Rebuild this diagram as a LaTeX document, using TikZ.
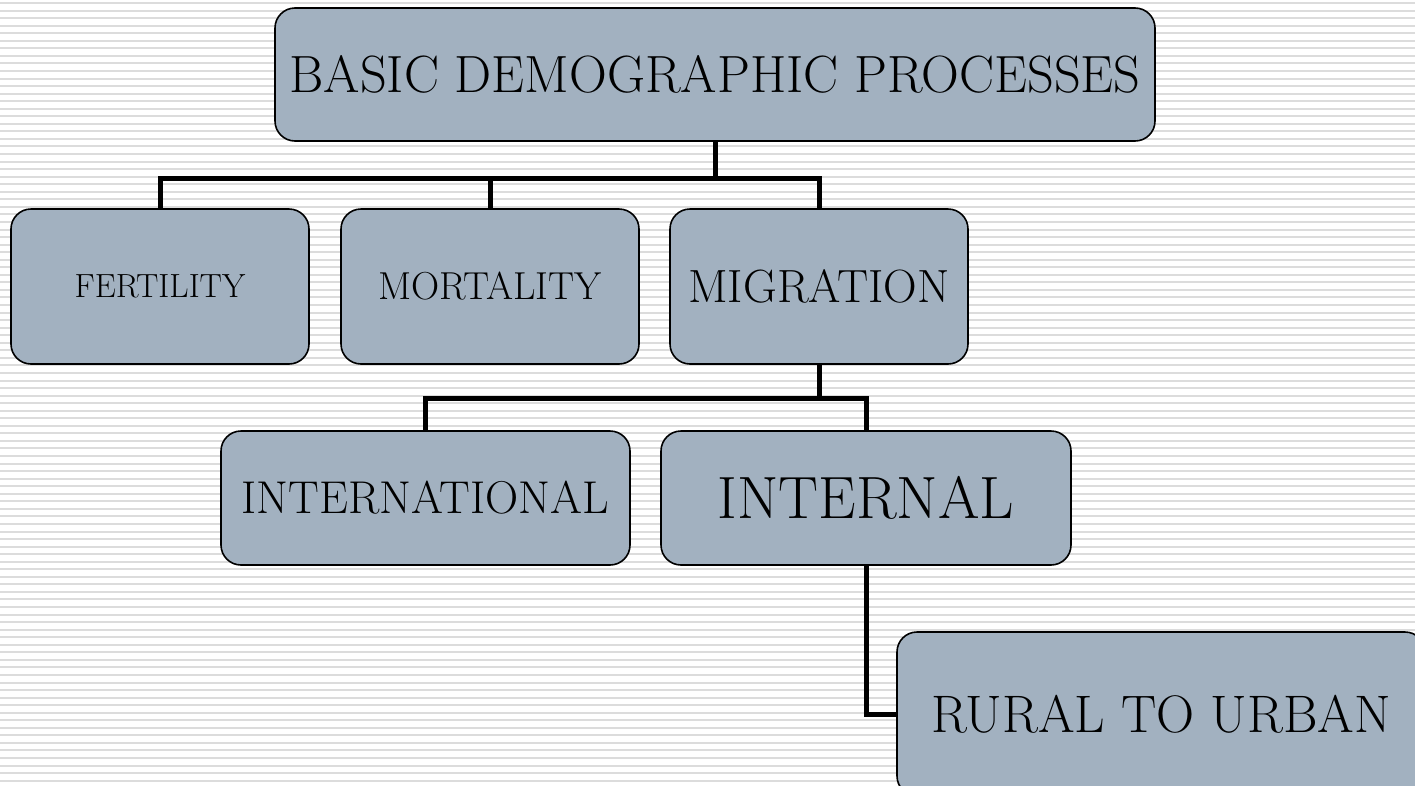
\documentclass[tikz,border=0pt]{standalone}
\definecolor{boxblue}{RGB}{162,177,192}
\definecolor{stripegray}{RGB}{220,220,220}
\begin{document}
\begin{tikzpicture}[x=1pt,y=-1pt,
    box/.style={draw=black,line width=1.6pt,fill=boxblue,rounded corners=20pt,inner sep=0pt},
    link/.style={line width=5pt,black},
    stripe/.style={line width=2pt,stripegray}]
      \useasboundingbox (0,0) rectangle (1415,785);
      \clip (0,0) rectangle (1415,785);
      % ruled paper background
      \foreach \k in {0,...,104} {\draw [stripe] (0,3+7.55*\k) -- (1415,3+7.55*\k);}
      \newcommand{\drawBox}[7]{ \node [box, minimum width=#4, minimum height=#5,
          font=\fontsize{#6}{#6}\selectfont] (#1) at (#2,#3) {#7}; };
      \drawBox{top}{715}{74.5}{880}{133}{52.4}{BASIC DEMOGRAPHIC PROCESSES}
      \drawBox{fert}{160}{286.5}{298}{155}{33.5}{FERTILITY}
      \drawBox{mort}{490}{286.5}{298}{155}{39}{MORTALITY}
      \drawBox{migr}{819}{286.5}{298}{155}{46.6}{MIGRATION}
      \drawBox{intl}{425.5}{498}{409}{134}{46}{INTERNATIONAL}
      \drawBox{intr}{866}{498}{410}{134}{59.7}{INTERNAL}
      \drawBox{rural}{1161}{714}{528}{164}{52.8}{RURAL TO URBAN}
      % tree connectors
      \coordinate (bar1) at (715,178);
      \coordinate (bar2) at (819,398);
      \draw [link] (top.south) -- (bar1);
      \draw [link] (fert.north) |- (bar1) -| (migr.north);
      \draw [link] (mort.north) -- (mort.north |- bar1);
      \draw [link] (migr.south) -- (bar2);
      \draw [link] (intl.north) |- (bar2) -| (intr.north);
      \draw [link] (intr.south) |- (rural.west);
    \end{tikzpicture}
\end{document}
